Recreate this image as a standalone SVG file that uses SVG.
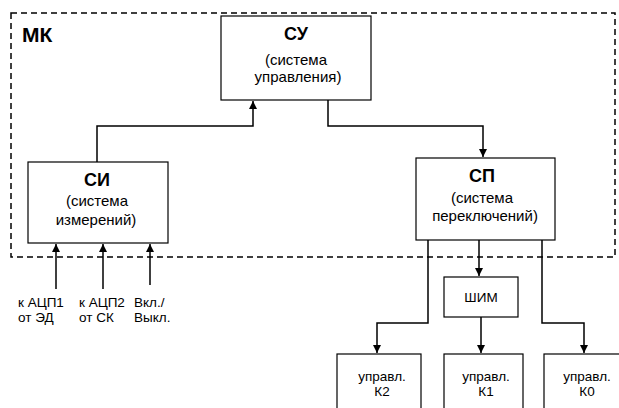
<svg xmlns="http://www.w3.org/2000/svg" width="619" height="408" viewBox="0 0 619 408">
<style>
.box{fill:#fff;stroke:#000;stroke-width:1.2}
.ln{fill:none;stroke:#000;stroke-width:1.5}
text{font-family:"Liberation Sans",Arial,sans-serif;fill:#000}
.t{font-size:15px;text-anchor:middle}
.b{font-size:18px;font-weight:bold;text-anchor:middle}
.s{font-size:13.5px}
.m{font-size:13.5px;text-anchor:middle}
</style>
<defs>
<marker id="ahd" markerWidth="8" markerHeight="9" refX="4" refY="8" orient="0" markerUnits="userSpaceOnUse" viewBox="0 0 8 9">
<path d="M0,0 L8,0 L4,8 Z" fill="#000"/>
</marker>
<marker id="ahu" markerWidth="8" markerHeight="9" refX="4" refY="1" orient="0" markerUnits="userSpaceOnUse" viewBox="0 0 8 9">
<path d="M0,9 L8,9 L4,1 Z" fill="#000"/>
</marker>
</defs>
<rect width="619" height="408" fill="#fff"/>
<g id="mk">
<rect x="11" y="13" width="604" height="244" fill="none" stroke="#000" stroke-width="1.5" stroke-dasharray="6,4"/>
<text x="22" y="42" style="font-size:21px;font-weight:bold">МК</text>
</g>
<g id="connectors">
<polyline class="ln" points="97,162 97,126 253,126 253,101" marker-end="url(#ahu)"/>
<polyline class="ln" points="328,100 328,126 483,126 483,157" marker-end="url(#ahd)"/>
<polyline class="ln" points="479,240 479,276" marker-end="url(#ahd)"/>
<polyline class="ln" points="428,240 428,323 377,323 377,353" marker-end="url(#ahd)"/>
<polyline class="ln" points="542,240 542,323 584,323 584,353" marker-end="url(#ahd)"/>
<polyline class="ln" points="481,317 481,353" marker-end="url(#ahd)"/>
<line class="ln" x1="56" y1="289" x2="56" y2="244" marker-end="url(#ahu)"/>
<line class="ln" x1="103" y1="289" x2="103" y2="244" marker-end="url(#ahu)"/>
<line class="ln" x1="150" y1="285" x2="150" y2="244" marker-end="url(#ahu)"/>
</g>
<g id="su">
<rect class="box" x="221" y="16" width="150" height="84"/>
<text class="b" x="296" y="40">СУ</text>
<text class="t" x="296" y="65">(система</text>
<text class="t" x="298" y="82">управления)</text>
</g>
<g id="si">
<rect class="box" x="28" y="162" width="140" height="81"/>
<text class="b" x="97" y="186">СИ</text>
<text class="t" x="97" y="206">(система</text>
<text class="t" x="96" y="225">измерений)</text>
</g>
<g id="sp">
<rect class="box" x="416" y="158" width="139" height="82"/>
<text class="b" x="482" y="182">СП</text>
<text class="t" x="482" y="203">(система</text>
<text class="t" x="485" y="221">переключений)</text>
</g>
<g id="shim">
<rect class="box" x="444" y="277" width="74" height="40"/>
<text class="m" x="481" y="302">ШИМ</text>
</g>
<g id="k2">
<rect class="box" x="337" y="354" width="84" height="60"/>
<text class="m" x="382" y="381">управл.</text>
<text class="m" x="382" y="396">К2</text>
</g>
<g id="k1">
<rect class="box" x="444" y="354" width="79" height="60"/>
<text class="m" x="486" y="381">управл.</text>
<text class="m" x="486" y="396">К1</text>
</g>
<g id="k0">
<rect class="box" x="544" y="354" width="84" height="60"/>
<text class="m" x="587" y="381">управл.</text>
<text class="m" x="587" y="396">К0</text>
</g>
<g id="inputs">
<text class="s" x="18" y="307">к АЦП1</text>
<text class="s" x="18" y="322">от ЭД</text>
<text class="s" x="79" y="307">к АЦП2</text>
<text class="s" x="79" y="322">от СК</text>
<text class="s" x="134" y="307">Вкл./</text>
<text class="s" x="134" y="322">Выкл.</text>
</g>
</svg>
